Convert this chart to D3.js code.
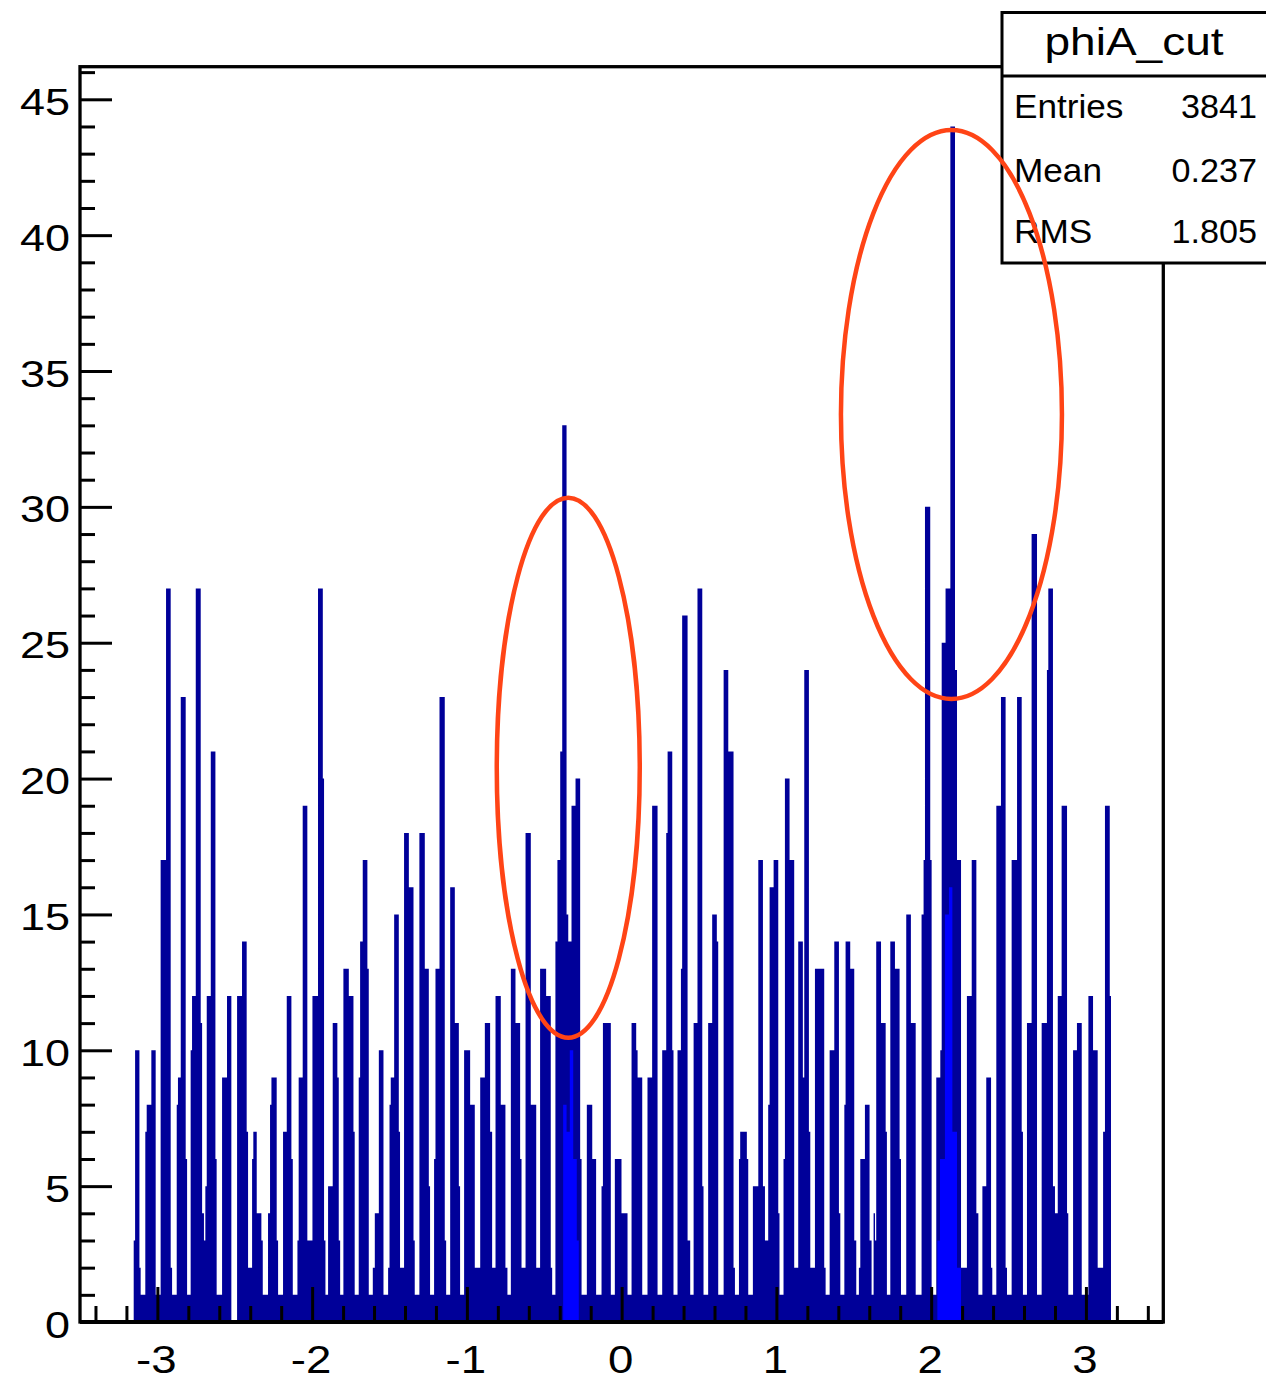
<!DOCTYPE html>
<html>
<head>
<meta charset="utf-8">
<script src="https://cdn.jsdelivr.net/npm/d3@7"></script>
<style>
body { margin: 0; background: #fff; }
svg { display: block; }
text { font-family: "Liberation Sans", Arial, Helvetica, sans-serif; fill: #000; }
</style>
</head>
<body>
<svg id="chart" width="1266" height="1380"></svg>
<script>

// histogram: left edge (phi) of each step and its content
var binLowEdge = [
  -3.153,-3.144,-3.116,-3.108,-3.078,-3.069,-3.039,-3.011,-2.979,-2.944,-2.914,-2.905,-2.875,-2.867,-2.849,-2.817,-2.808,-2.785,-2.776,-2.752,
  -2.720,-2.711,-2.699,-2.690,-2.681,-2.655,-2.625,-2.617,-2.582,-2.550,-2.522,-2.485,-2.453,-2.423,-2.414,-2.388,-2.380,-2.358,-2.328,-2.319,
  -2.285,-2.272,-2.263,-2.229,-2.220,-2.188,-2.164,-2.134,-2.125,-2.095,-2.087,-2.061,-2.031,-1.998,-1.962,-1.931,-1.923,-1.914,-1.897,-1.867,
  -1.837,-1.828,-1.819,-1.798,-1.763,-1.733,-1.725,-1.699,-1.690,-1.673,-1.643,-1.634,-1.608,
  -1.595,-1.569,-1.539,-1.509,-1.500,-1.492,-1.470,-1.440,-1.432,-1.406,-1.375,-1.345,-1.337,-1.307,-1.272,-1.246,-1.238,-1.212,-1.203,-1.177,
  -1.143,-1.134,-1.108,-1.078,-1.052,-1.044,-1.018,-0.979,-0.949,-0.914,-0.884,-0.850,-0.837,-0.815,-0.781,-0.751,-0.738,-0.716,-0.686,-0.656,
  -0.647,-0.621,-0.587,-0.552,-0.527,-0.488,-0.458,-0.449,-0.428,-0.415,-0.397,-0.384,-0.356,-0.345,-0.324,-0.298,-0.268,-0.259,-0.225,-0.190,
  -0.165,-0.130,-0.121,-0.070,-0.044,-0.001,
  0.038,0.064,0.094,0.103,0.133,0.167,0.197,0.232,0.262,0.288,0.297,0.327,0.335,0.361,0.383,0.391,0.426,0.443,0.465,0.490,
  0.521,0.529,0.559,0.585,0.615,0.624,0.659,0.689,0.723,0.732,0.758,0.766,0.809,0.818,0.848,0.883,0.913,0.926,0.947,0.956,
  0.982,1.012,1.020,1.046,1.055,1.085,1.115,1.141,1.171,1.180,1.210,1.219,1.249,1.309,1.318,1.344,1.374,1.404,1.413,1.439,
  1.447,1.477,1.503,1.516,1.533,1.542,1.572,1.602,1.615,1.628,
  1.637,1.645,1.676,1.706,1.714,1.736,1.766,1.796,1.805,1.839,1.869,1.900,1.938,1.951,1.960,1.994,2.003,2.033,2.059,2.068,
  2.093,2.124,2.154,2.167,2.193,2.231,2.262,2.292,2.305,2.331,2.356,2.387,2.395,2.421,2.451,2.481,2.490,2.520,2.555,2.585,
  2.593,2.619,2.649,2.684,2.714,2.748,2.757,2.787,2.800,2.818,2.843,2.878,2.886,2.917,2.942,2.973,3.016,3.046,3.076,3.111,
  3.123,3.154
];
var binContent = [
  3,10,2,1,7,8,10,1,17,27,2,1,8,9,23,6,1,10,12,27,
  11,4,3,5,12,21,6,1,9,12,0,12,14,7,2,6,7,4,3,1,
  4,8,9,3,1,7,12,6,1,3,9,19,3,12,27,20,3,1,5,11,
  9,3,1,13,12,7,1,9,14,17,13,1,2,
  4,10,1,2,8,9,15,7,2,18,16,3,1,18,13,5,1,6,13,23,
  3,1,16,11,5,1,10,8,2,9,11,7,2,12,8,2,1,13,11,6,
  2,18,8,2,13,12,2,1,14,17,21,33,15,14,19,20,6,1,8,6,
  1,5,11,1,6,4,
  1,11,10,9,1,9,19,1,10,18,21,10,1,10,13,26,3,1,11,27,
  5,1,11,15,14,1,24,21,2,1,6,7,6,1,5,17,5,3,8,16,
  17,4,1,6,20,17,2,14,9,24,7,2,13,2,1,10,14,4,1,8,
  14,13,3,1,2,6,8,3,1,4,
  3,14,11,7,1,14,13,6,1,15,11,1,15,17,30,17,1,9,10,25,
  27,44,24,17,2,12,17,4,1,5,9,2,1,19,23,2,1,17,23,7,
  1,11,29,1,11,24,27,5,4,12,19,4,1,10,11,1,12,10,2,7,
  19,12
];
var lastEdge = 3.162;

// parts of the fill not hidden by the dark outline (bright blue)
var brightLowEdge = [-0.378,-0.356,-0.335,-0.313,-0.290, 2.040,2.057,2.089,2.115,2.137,2.167];
var brightContent = [8,7,10,6,3, 3,6,15,16,7,2];
var brightLastEdge = [-0.277, 2.193];

var xTickLabels = [-3, -2, -1, 0, 1, 2, 3];
var yTickLabels = [0, 5, 10, 15, 20, 25, 30, 35, 40, 45];

var histTitle = "phiA_cut";
var statNames = ["Entries", "Mean", "RMS"];
var statValues = ["3841", "0.237", "1.805"];

// hand-drawn red rings: centre and half sizes in data units
var ringPhi = [-0.345, 2.131];
var ringCount = [20.4, 33.4];
var ringHalfPhi = [0.462, 0.714];
var ringHalfCount = [9.94, 10.47];

var svg = d3.select("#chart"),
    margin = { top: 66.7, left: 80, bottom: 58, right: 102.7 },
    width = +svg.attr("width"),
    height = +svg.attr("height");

var x = d3.scaleLinear()
    .domain([-3.5, 3.5])
    .range([margin.left, width - margin.right]);

var y = d3.scaleLinear()
    .domain([0, 46.2])
    .range([height - margin.bottom, margin.top]);

var darkBlue = "#000099", fillBlue = "#0000ff";

var area = d3.area()
    .curve(d3.curveStepAfter)
    .x(d => x(d[0]))
    .y0(y(0))
    .y1(d => y(d[1]));

var pts = binLowEdge.map((e, i) => [e, binContent[i]]);
pts.push([lastEdge, 0]);

svg.append("path")
    .datum(pts)
    .attr("fill", darkBlue)
    .attr("d", area);

// bright patches, split in two runs
var runA = [], runB = [];
brightLowEdge.forEach(function (e, i) {
    (e < 0 ? runA : runB).push([e, brightContent[i]]);
});
runA.push([brightLastEdge[0], 0]);
runB.push([brightLastEdge[1], 0]);
svg.selectAll("path.bright")
    .data([runA, runB])
    .enter().append("path")
    .attr("class", "bright")
    .attr("fill", fillBlue)
    .attr("d", area);

// axes ticks (ROOT style, pointing inward)
var xMinor = d3.range(-3.4, 3.41, 0.2).filter(v => Math.abs(v - Math.round(v)) > 0.01);
var yMinor = d3.range(1, 47, 1).filter(v => v % 5 != 0);

function styleTicks(g) {
    g.select(".domain").remove();
    g.selectAll("line").attr("stroke", "#000").attr("stroke-width", 3);
}

svg.append("g")
    .attr("transform", `translate(0,${y(0)})`)
    .call(d3.axisBottom(x).tickValues(xTickLabels).tickSize(-35).tickFormat(""))
    .call(styleTicks);
svg.append("g")
    .attr("transform", `translate(0,${y(0)})`)
    .call(d3.axisBottom(x).tickValues(xMinor).tickSize(-16).tickFormat(""))
    .call(styleTicks);
svg.append("g")
    .attr("transform", `translate(${x(-3.5)},0)`)
    .call(d3.axisLeft(y).tickValues(yTickLabels).tickSize(-32).tickFormat(""))
    .call(styleTicks);
svg.append("g")
    .attr("transform", `translate(${x(-3.5)},0)`)
    .call(d3.axisLeft(y).tickValues(yMinor).tickSize(-15).tickFormat(""))
    .call(styleTicks);

// frame
svg.append("rect")
    .attr("x", x(-3.5))
    .attr("y", y(46.2))
    .attr("width", x(3.5) - x(-3.5))
    .attr("height", y(0) - y(46.2))
    .attr("fill", "none")
    .attr("stroke", "#000")
    .attr("stroke-width", 3.3);
svg.append("line")
    .attr("x1", x(-3.5)).attr("x2", x(3.5))
    .attr("y1", y(0)).attr("y2", y(0))
    .attr("stroke", "#000").attr("stroke-width", 4);

function label(tx, ty, str, anchor, size, sx) {
    svg.append("text")
        .attr("transform", `translate(${tx},${ty}) scale(${sx},1)`)
        .attr("text-anchor", anchor)
        .attr("font-size", size)
        .text(str);
}

xTickLabels.forEach(v => label(x(v) - 1, 1373, v, "middle", 38, 1.2));
yTickLabels.forEach(v => label(70, y(v) + 15.5, v, "end", 37.5, 1.2));

// stats box
svg.append("rect")
    .attr("x", 1002).attr("y", 12.5)
    .attr("width", 320).attr("height", 250.5)
    .attr("fill", "#fff").attr("stroke", "#000").attr("stroke-width", 3);
svg.append("line")
    .attr("x1", 1002).attr("x2", 1300)
    .attr("y1", 76).attr("y2", 76)
    .attr("stroke", "#000").attr("stroke-width", 3);
label(1134, 55, histTitle, "middle", 39, 1.18);
statNames.forEach(function (s, i) {
    var base = [118, 181.5, 243][i];
    label(1014, base, s, "start", 33.5, 1.05);
    label(1257, base, statValues[i], "end", 33.5, 1.02);
});

// red rings on top
svg.selectAll("ellipse")
    .data(ringPhi)
    .enter().append("ellipse")
    .attr("cx", d => x(d))
    .attr("cy", (d, i) => y(ringCount[i]))
    .attr("rx", (d, i) => x(d + ringHalfPhi[i]) - x(d))
    .attr("ry", (d, i) => y(ringCount[i] - ringHalfCount[i]) - y(ringCount[i]))
    .attr("fill", "none")
    .attr("stroke", "#ff4416")
    .attr("stroke-width", 4.5);
</script>
</body>
</html>
